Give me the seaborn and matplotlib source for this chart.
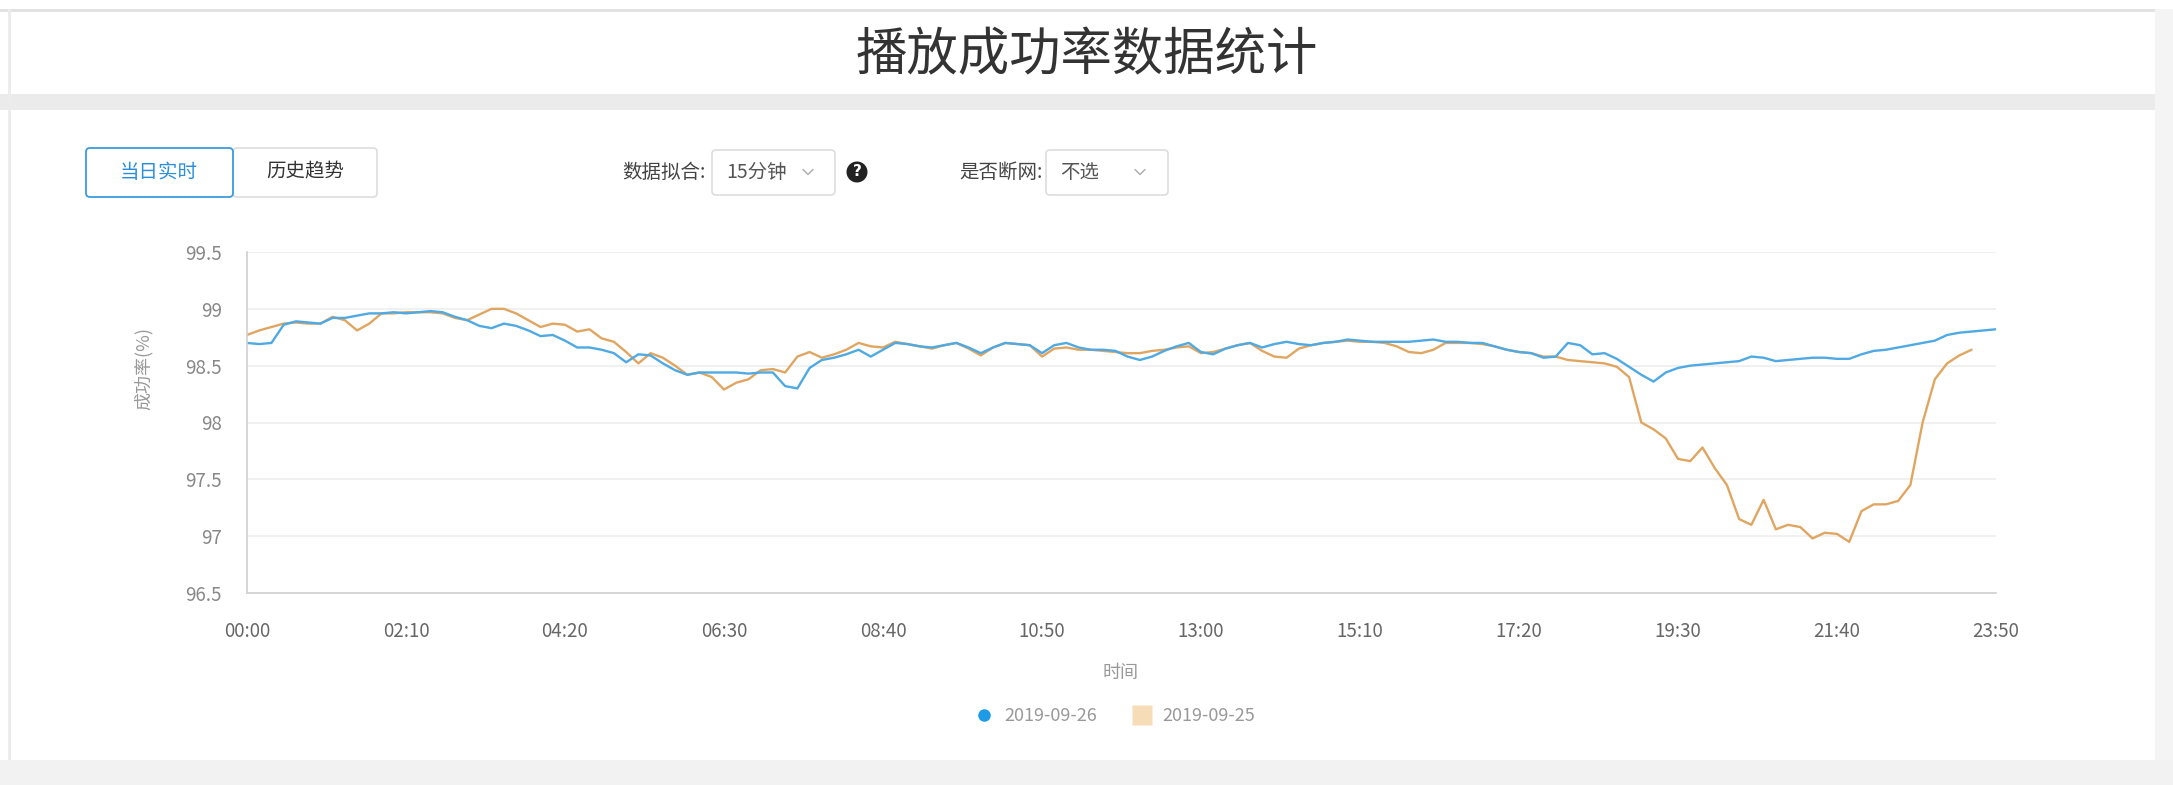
import numpy as np
import pandas as pd
import matplotlib
matplotlib.use("Agg")
import matplotlib.pyplot as plt
import seaborn as sns
from matplotlib.patches import Rectangle, FancyBboxPatch, Circle
from matplotlib.lines import Line2D

W, H = 2173, 785

# ---------------- data ----------------
title = "播放成功率数据统计"
x_axis_name = "时间"
y_axis_name = "成功率(%)"
series_names = ["2019-09-26", "2019-09-25"]
tick_every = 13
time_labels = ["00:00", "02:10", "04:20", "06:30", "08:40", "10:50",
               "13:00", "15:10", "17:20", "19:30", "21:40", "23:50"]
y_ticks = [96.5, 97.0, 97.5, 98.0, 98.5, 99.0, 99.5]
y_tick_labels = ["96.5", "97", "97.5", "98", "98.5", "99", "99.5"]

today_rate = [
    98.70, 98.69, 98.70, 98.86, 98.89, 98.88, 98.87, 98.92, 98.92, 98.94,
    98.96, 98.96, 98.97, 98.96, 98.97, 98.98, 98.97, 98.93, 98.90, 98.85,
    98.83, 98.87, 98.85, 98.81, 98.76, 98.77, 98.72, 98.66, 98.66, 98.64,
    98.61, 98.53, 98.60, 98.59, 98.52, 98.46, 98.42, 98.44, 98.44, 98.44,
    98.44, 98.43, 98.44, 98.44, 98.32, 98.30, 98.48, 98.55, 98.57, 98.60,
    98.64, 98.58, 98.64, 98.70, 98.69, 98.67, 98.66, 98.68, 98.70, 98.66,
    98.61, 98.66, 98.70, 98.69, 98.68, 98.61, 98.68, 98.70, 98.66, 98.64,
    98.64, 98.63, 98.58, 98.55, 98.58, 98.63, 98.67, 98.70, 98.62, 98.60,
    98.65, 98.68, 98.70, 98.66, 98.69, 98.71, 98.69, 98.68, 98.70, 98.71,
    98.73, 98.72, 98.71, 98.71, 98.71, 98.71, 98.72, 98.73, 98.71, 98.71,
    98.70, 98.70, 98.67, 98.64, 98.62, 98.61, 98.57, 98.58, 98.70, 98.68,
    98.60, 98.61, 98.56, 98.49, 98.42, 98.36, 98.44, 98.48, 98.50, 98.51,
    98.52, 98.53, 98.54, 98.58, 98.57, 98.54, 98.55, 98.56, 98.57, 98.57,
    98.56, 98.56, 98.60, 98.63, 98.64, 98.66, 98.68, 98.70, 98.72, 98.77,
    98.79, 98.80, 98.81, 98.82,
]

yesterday_rate = [
    98.77, 98.81, 98.84, 98.87, 98.88, 98.87, 98.87, 98.93, 98.90, 98.81,
    98.87, 98.96, 98.96, 98.97, 98.97, 98.97, 98.96, 98.92, 98.90, 98.95,
    99.00, 99.00, 98.96, 98.90, 98.84, 98.87, 98.86, 98.80, 98.82, 98.74,
    98.71, 98.62, 98.52, 98.61, 98.57, 98.50, 98.42, 98.44, 98.40, 98.29,
    98.35, 98.38, 98.46, 98.47, 98.44, 98.58, 98.62, 98.57, 98.60, 98.64,
    98.70, 98.67, 98.66, 98.71, 98.69, 98.67, 98.65, 98.68, 98.70, 98.65,
    98.59, 98.66, 98.70, 98.69, 98.68, 98.58, 98.65, 98.66, 98.64, 98.64,
    98.63, 98.62, 98.61, 98.61, 98.63, 98.64, 98.66, 98.67, 98.61, 98.62,
    98.65, 98.68, 98.70, 98.63, 98.58, 98.57, 98.65, 98.68, 98.70, 98.71,
    98.72, 98.71, 98.71, 98.70, 98.67, 98.62, 98.61, 98.64, 98.70, 98.70,
    98.70, 98.69, 98.67, 98.64, 98.62, 98.61, 98.58, 98.58, 98.55, 98.54,
    98.53, 98.52, 98.49, 98.40, 98.00, 97.94, 97.86, 97.68, 97.66, 97.78,
    97.60, 97.45, 97.15, 97.10, 97.32, 97.06, 97.10, 97.08, 96.98, 97.03,
    97.02, 96.95, 97.22, 97.28, 97.28, 97.31, 97.45, 98.00, 98.38, 98.52,
    98.59, 98.64, np.nan, np.nan,
]

BLUE = "#4FA9E2"
ORANGE = "#E0A661"

# ---------------- style ----------------
sns.set_style("white")
plt.rcParams['font.family'] = ['Noto Sans CJK SC', 'DejaVu Sans']

fig = plt.figure(figsize=(W / 100, H / 100), dpi=100)
fig.patch.set_facecolor("white")
T = fig.dpi_scale_trans


def rect(x0, y0, x1, y1, **kw):
    fig.patches.append(Rectangle((x0 / 100, (H - y1) / 100), (x1 - x0) / 100,
                                 (y1 - y0) / 100, transform=T, **kw))


def rbox(x0, y0, x1, y1, **kw):
    fig.patches.append(FancyBboxPatch((x0 / 100, (H - y1) / 100), (x1 - x0) / 100,
                                      (y1 - y0) / 100, boxstyle="round,pad=0,rounding_size=0.04",
                                      transform=T, **kw))


def text(x, y, s, **kw):
    fig.text(x / 100, (H - y) / 100, s, transform=T, **kw)


def chevron(cx, cy, s=5, color="#aaaaaa"):
    fig.lines.append(Line2D([(cx - s) / 100, cx / 100, (cx + s) / 100],
                            [(H - cy + s / 2) / 100, (H - cy - s / 2) / 100, (H - cy + s / 2) / 100],
                            transform=T, color=color, lw=1.0))


# page frame / background pieces
rect(0, 0, W, 9, facecolor="#ffffff", edgecolor="none")
rect(0, 9, W, 12, facecolor="#e2e2e2", edgecolor="none")
rect(0, 94, W, 110, facecolor="#ebebeb", edgecolor="none")
rect(8, 9, 11, 760, facecolor="#ececec", edgecolor="none")
rect(2155, 9, W, H, facecolor="#f4f4f4", edgecolor="none")
rect(0, 760, W, H, facecolor="#f2f2f2", edgecolor="none")

# title
text(1087, 56, title, ha="center", va="center", fontsize=37, color="#333333")

# controls
rbox(86, 148, 233, 197, facecolor="white", edgecolor="#3A9BE0", lw=1.3, zorder=3)
rbox(233, 148, 377, 197, facecolor="white", edgecolor="#dddddd", lw=1.2, zorder=2)
text(159, 172, "当日实时", ha="center", va="center", fontsize=14, color="#2B8FDB")
text(305, 172, "历史趋势", ha="center", va="center", fontsize=14, color="#333333")

text(706, 172, "数据拟合:", ha="right", va="center", fontsize=14, color="#444444")
rbox(712, 150, 835, 195, facecolor="white", edgecolor="#dddddd", lw=1.2)
text(726, 172, "15分钟", ha="left", va="center", fontsize=14, color="#555555")
chevron(808, 172)
fig.patches.append(Circle((857 / 100, (H - 172) / 100), 0.105, transform=T,
                          facecolor="#222222", edgecolor="none"))
text(857, 172, "?", ha="center", va="center", fontsize=11, color="white",
     fontweight="bold", family=["DejaVu Sans"])

text(1043, 172, "是否断网:", ha="right", va="center", fontsize=14, color="#444444")
rbox(1046, 150, 1168, 195, facecolor="white", edgecolor="#dddddd", lw=1.2)
text(1060, 172, "不选", ha="left", va="center", fontsize=14, color="#555555")
chevron(1140, 172)

# ---------------- chart ----------------
L, R, TOP, BOT = 247, 1996, 252, 593
ax = fig.add_axes([L / W, (H - BOT) / H, (R - L) / W, (BOT - TOP) / H])
ax.set_facecolor("white")

n = len(today_rate)
df = pd.DataFrame({
    "idx": list(range(n)) * 2,
    "rate": today_rate + yesterday_rate,
    "series": [series_names[0]] * n + [series_names[1]] * n,
})
sns.lineplot(data=df, x="idx", y="rate", hue="series",
             palette={series_names[0]: BLUE, series_names[1]: ORANGE},
             hue_order=[series_names[1], series_names[0]],
             linewidth=1.7, legend=False, ax=ax, estimator=None, sort=False)

ax.set_xlim(0, n - 1)
ax.set_ylim(y_ticks[0], y_ticks[-1])
ax.set_xticks(list(range(0, n, tick_every)))
ax.set_xticklabels(time_labels)
ax.set_yticks(y_ticks)
ax.set_yticklabels(y_tick_labels)
ax.set_xlabel("")
ax.set_ylabel("")
ax.yaxis.grid(True, color="#eeeeee", lw=1.2)
ax.xaxis.grid(False)
for s in ["top", "right"]:
    ax.spines[s].set_visible(False)
for s in ["left", "bottom"]:
    ax.spines[s].set_color("#d0d0d0")
    ax.spines[s].set_linewidth(1.2)
ax.tick_params(axis="x", direction="out", length=6, color="#d0d0d0",
               labelsize=13.5, labelcolor="#666666", pad=14)
ax.tick_params(axis="y", direction="out", length=6, color="#d0d0d0",
               labelsize=13.5, labelcolor="#888888", pad=12)

text(144, 368, y_axis_name, ha="center", va="center", rotation=90,
     fontsize=13, color="#999999")
text(1121, 673, x_axis_name, ha="center", va="center", fontsize=13, color="#999999")

# legend
handles = [
    Line2D([], [], marker="o", linestyle="none", markersize=9,
           markerfacecolor="#1E9BE6", markeredgecolor="none"),
    Line2D([], [], marker="s", linestyle="none", markersize=15,
           markerfacecolor="#F6DDB8", markeredgecolor="none"),
]
fig.legend(handles, series_names, loc="center", ncol=2, frameon=False,
           bbox_to_anchor=(1115 / W, 1 - 716 / H), fontsize=13,
           labelcolor="#999999", handletextpad=0.6, columnspacing=2.0,
           handlelength=1.0)

fig.savefig("out.png", dpi=100, facecolor="white")
